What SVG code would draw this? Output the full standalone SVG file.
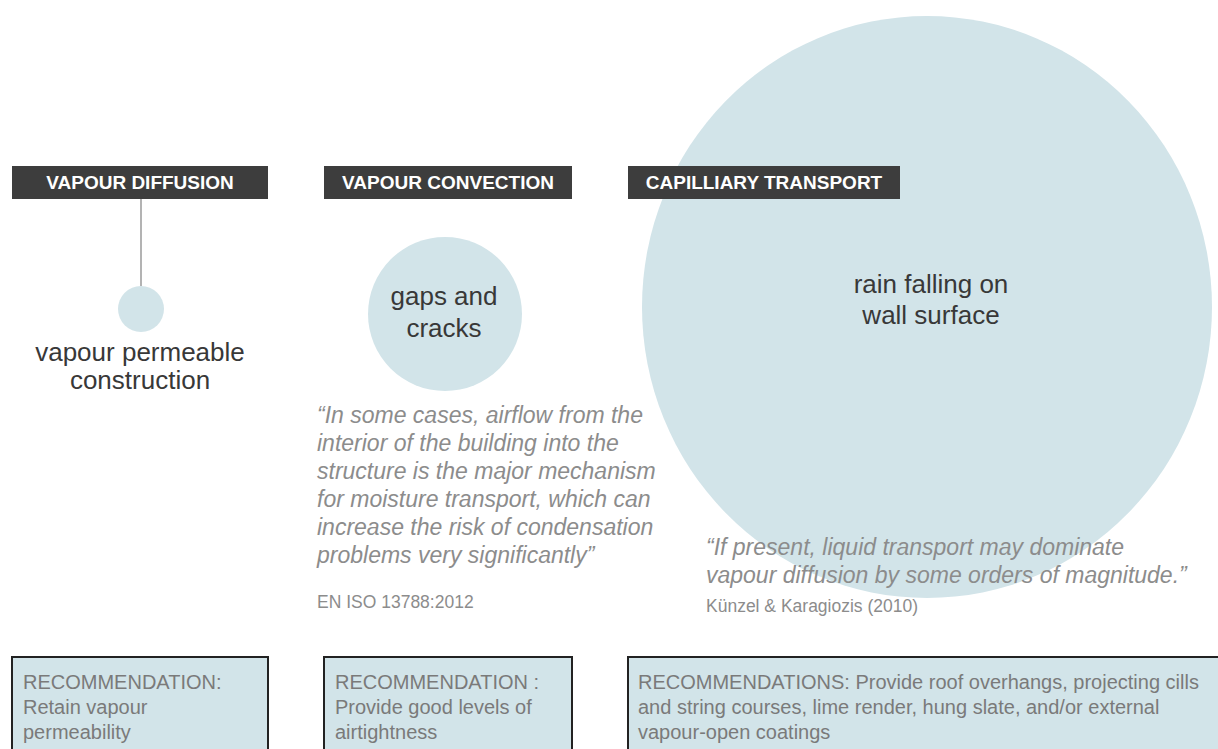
<svg xmlns="http://www.w3.org/2000/svg" width="1218" height="749" viewBox="0 0 1218 749">
<style>
.bg{fill:#ffffff}
.bubble{fill:#d2e4e9}
.bar{fill:#3d3d3d}
.bartxt{font-family:"Liberation Sans",Arial,sans-serif;font-weight:bold;font-size:19px;fill:#ffffff;text-anchor:middle}
.lbl{font-family:"Liberation Sans",Arial,sans-serif;font-size:26px;fill:#383838;text-anchor:middle}
.quote{font-family:"Liberation Sans",Arial,sans-serif;font-style:italic;font-size:23px;fill:#8c8c8c}
.src{font-family:"Liberation Sans",Arial,sans-serif;font-size:17.5px;fill:#8c8c8c}
.box{fill:#d2e4e9;stroke:#222222;stroke-width:2}
.boxtxt{font-family:"Liberation Sans",Arial,sans-serif;font-size:20px;fill:#7a7a7a}
.conn{stroke:#9a9a9a;stroke-width:1.5;fill:none}
</style>
<rect class="bg" x="0" y="0" width="1218" height="749"/>

<g id="connectors">
<line class="conn" x1="141" y1="199" x2="141" y2="286"/>
</g>

<g id="capillary-circle">
<ellipse class="bubble" cx="927" cy="307" rx="285" ry="291"/>
<text class="lbl" x="931" y="293">rain falling on</text>
<text class="lbl" x="931" y="324">wall surface</text>
</g>

<g id="vapour-diffusion-header">
<rect class="bar" x="12" y="166" width="256" height="33"/>
<text class="bartxt" x="140" y="189">VAPOUR DIFFUSION</text>
</g>

<g id="vapour-convection-header">
<rect class="bar" x="324" y="166" width="248" height="33"/>
<text class="bartxt" x="448" y="189">VAPOUR CONVECTION</text>
</g>

<g id="capillary-header">
<rect class="bar" x="628" y="166" width="272" height="33"/>
<text class="bartxt" x="764" y="189">CAPILLIARY TRANSPORT</text>
</g>

<g id="vapour-permeable-node">
<circle class="bubble" cx="141" cy="309" r="23"/>
<text class="lbl" x="140" y="361">vapour permeable</text>
<text class="lbl" x="140" y="389">construction</text>
</g>

<g id="gaps-node">
<circle class="bubble" cx="445" cy="314" r="77"/>
<text class="lbl" x="444" y="305">gaps and</text>
<text class="lbl" x="444" y="337">cracks</text>
</g>

<g id="quote-convection">
<text class="quote" x="317" y="423">“In some cases, airflow from the</text>
<text class="quote" x="317" y="451">interior of the building into the</text>
<text class="quote" x="317" y="479">structure is the major mechanism</text>
<text class="quote" x="317" y="507">for moisture transport, which can</text>
<text class="quote" x="317" y="535">increase the risk of condensation</text>
<text class="quote" x="317" y="563">problems very significantly”</text>
<text class="src" x="317" y="608">EN ISO 13788:2012</text>
</g>

<g id="quote-capillary">
<text class="quote" x="706" y="555">“If present, liquid transport may dominate</text>
<text class="quote" x="706" y="583">vapour diffusion by some orders of magnitude.”</text>
<text class="src" x="706" y="612">Künzel &amp; Karagiozis (2010)</text>
</g>

<g id="rec-diffusion">
<rect class="box" x="12" y="657" width="256" height="100"/>
<text class="boxtxt" x="23" y="689">RECOMMENDATION:</text>
<text class="boxtxt" x="23" y="714">Retain vapour</text>
<text class="boxtxt" x="23" y="739">permeability</text>
</g>

<g id="rec-convection">
<rect class="box" x="324" y="657" width="248" height="100"/>
<text class="boxtxt" x="335" y="689">RECOMMENDATION :</text>
<text class="boxtxt" x="335" y="714">Provide good levels of</text>
<text class="boxtxt" x="335" y="739">airtightness</text>
</g>

<g id="rec-capillary">
<rect class="box" x="628" y="657" width="600" height="100"/>
<text class="boxtxt" x="638" y="689">RECOMMENDATIONS: Provide roof overhangs, projecting cills</text>
<text class="boxtxt" x="638" y="714">and string courses, lime render, hung slate, and/or external</text>
<text class="boxtxt" x="638" y="739">vapour-open coatings</text>
</g>
</svg>
